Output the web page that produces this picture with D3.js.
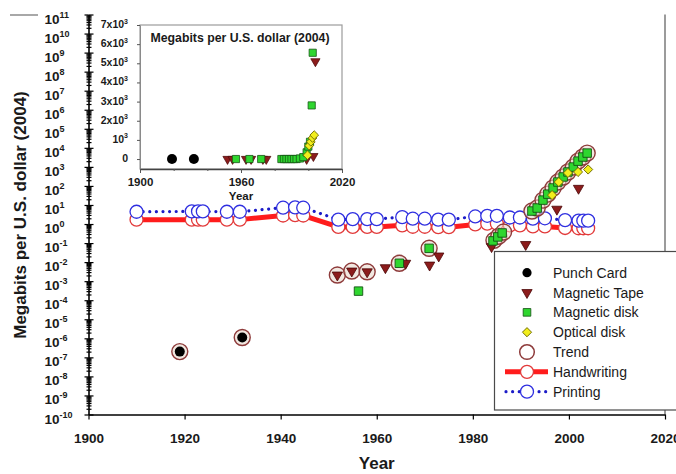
<!DOCTYPE html>
<html><head><meta charset="utf-8">
<script src="https://cdn.jsdelivr.net/npm/d3@7"></script>
<style>
html,body{margin:0;padding:0;background:#fff;}
svg{display:block;font-family:"Liberation Sans",Arial,Helvetica,sans-serif;}
</style></head><body>
<svg id="chart" width="676" height="474"></svg>
<script>
// ---------------- data (main log chart) ----------------
const punchYears = [1919, 1932];
const punchValues = [2.0e-7, 1.1e-6];
const tapeYears = [1951.8, 1954.8, 1958, 1961.8, 1966, 1971, 1972.9, 1983.9, 1991, 1997.5, 2002];
const tapeValues = [2.1e-3, 3.4e-3, 3.1e-3, 5.1e-3, 8.7e-3, 7e-3, 0.021, 0.065, 0.084, 6, 75];
const diskYears = [1956.2, 1964.7, 1970.9, 1984.2, 1985.2, 1986.1, 1992.3, 1993.4, 1994.6, 1995.6, 1996.7, 1997.7, 1998.8, 1999.8, 2000.9, 2001.9, 2002.9, 2003.8];
const diskValues = [3.0e-4, 8.7e-3, 0.053, 0.13, 0.21, 0.34, 4.8, 6.9, 18, 37, 78, 160, 295, 540, 980, 2000, 3300, 5300];
const opticalYears = [1996.5, 1997.9, 1999.8, 2001.9, 2004];
const opticalValues = [33, 160, 480, 540, 730];
const trendYears = [1919, 1932, 1951.8, 1954.8, 1958, 1964.7, 1970.9, 1984.4, 1985.4, 1986.4, 1992.3, 1993.4, 1994.6, 1995.6, 1996.7, 1997.7, 1998.8, 1999.8, 2000.9, 2001.9, 2002.9, 2003.8];
const trendValues = [2.0e-7, 1.1e-6, 2.1e-3, 3.4e-3, 3.1e-3, 8.7e-3, 0.053, 0.14, 0.23, 0.38, 4.8, 6.9, 18, 37, 78, 160, 295, 540, 980, 2000, 3300, 5300];
const paperYears = [1910, 1921.5, 1922.8, 1923.8, 1928.8, 1931.5, 1940.5, 1943, 1944.7, 1952, 1955, 1958, 1960, 1965.3, 1967.5, 1970, 1972.8, 1975, 1980.5, 1983, 1985, 1987.7, 1989.8, 1992.5, 1995, 1999.2, 2002, 2003, 2004];
const printingValues = [4.4, 4.6, 4.6, 4.6, 4.4, 4.4, 7.2, 7.5, 7.2, 1.7, 1.8, 1.8, 1.8, 2.3, 1.9, 1.9, 1.7, 1.7, 2.5, 2.7, 2.7, 2.2, 2.2, 1.9, 2.0, 1.6, 1.5, 1.5, 1.5];
const handwritingValues = [1.7, 1.7, 1.7, 1.7, 1.7, 1.7, 2.8, 2.9, 2.8, 0.7, 0.7, 0.7, 0.7, 0.85, 0.72, 0.72, 0.68, 0.68, 0.95, 1.05, 1.05, 0.85, 0.85, 0.75, 0.75, 0.62, 0.6, 0.6, 0.6];
const xTicks = [1900, 1920, 1940, 1960, 1980, 2000, 2020];
const yExponents = d3.range(-10, 12);

// ---------------- data (inset, linear) ----------------
const insetPunchYears = [1919, 1932];
const insetPunchValues = [0, 0];
const insetTapeYears = [1952, 1955, 1963, 1966, 1973, 1975, 1999, 2003, 2004.2];
const insetTapeValues = [0, 0, 0, 0, 0, 0, 0, 150, 5100];
const insetDiskYears = [1957, 1965, 1972, 1984, 1985.5, 1987, 1988.5, 1990, 1991.5, 1993, 1995, 1997, 1999, 2000, 2001, 2002, 2002.6];
const insetDiskValues = [0, 0, 0, 0, 0, 0, 0, 0, 0, 0, 30, 100, 350, 650, 900, 2800, 5550];
const insetOpticalYears = [1999.5, 2000.5, 2001.5, 2002.5, 2003.5];
const insetOpticalValues = [200, 700, 900, 1100, 1250];
const insetXTicks = [1900, 1960, 2020];
const insetYTicks = [0, 1000, 2000, 3000, 4000, 5000, 6000, 7000];

const legendLabels = ["Punch Card", "Magnetic Tape", "Magnetic disk", "Optical disk", "Trend", "Handwriting", "Printing"];

// ---------------- styles ----------------
const C = {
  tapeFill: "#8c1c1c", tapeStroke: "#4a0808",
  diskFill: "#2fd62f", diskStroke: "#145214",
  optFill: "#f2ee1c", optStroke: "#6d6a00",
  trendStroke: "#8e3b3b", trendFill: "rgba(232,214,200,0.55)",
  red: "#ff1c1c", redCircle: "#e23a3a",
  blue: "#1c1cc8", blueCircle: "#2f2fe0"
};

const svg = d3.select("#chart");
const x = d3.scaleLinear().domain([1900, 2020]).range([88.5, 665]);
const y = d3.scaleLog().domain([1e-10, 1e11]).range([414.5, 14.5]);

const triPath = d3.symbol().type(d3.symbolTriangle).size(46)();
const sqPath = d3.symbol().type(d3.symbolSquare).size(72)();
const diaPath = d3.symbol().type(d3.symbolSquare).size(42)();

function drawTape(g, pts, px, py, scale) {
  g.selectAll(null).data(pts).join("path")
    .attr("d", triPath)
    .attr("transform", d => `translate(${px(d[0])},${py(d[1])}) rotate(180) scale(${scale})`)
    .attr("fill", C.tapeFill).attr("stroke", C.tapeStroke).attr("stroke-width", 0.8);
}
function drawDisk(g, pts, px, py, scale) {
  g.selectAll(null).data(pts).join("path")
    .attr("d", sqPath)
    .attr("transform", d => `translate(${px(d[0])},${py(d[1])}) scale(${scale})`)
    .attr("fill", C.diskFill).attr("stroke", C.diskStroke).attr("stroke-width", 0.9);
}
function drawOptical(g, pts, px, py, scale) {
  g.selectAll(null).data(pts).join("path")
    .attr("d", diaPath)
    .attr("transform", d => `translate(${px(d[0])},${py(d[1])}) rotate(45) scale(${scale})`)
    .attr("fill", C.optFill).attr("stroke", C.optStroke).attr("stroke-width", 0.9);
}
function drawPunch(g, pts, px, py, r) {
  g.selectAll(null).data(pts).join("circle")
    .attr("cx", d => px(d[0])).attr("cy", d => py(d[1])).attr("r", r)
    .attr("fill", "#000");
}
const zip = (a, b) => a.map((v, i) => [v, b[i]]);

// stray gray line at top-left
svg.append("line").attr("x1", 10).attr("x2", 38).attr("y1", 15).attr("y2", 15)
  .attr("stroke", "#a8a8a8").attr("stroke-width", 2);

// right border
svg.append("line").attr("x1", x(2020)).attr("x2", x(2020)).attr("y1", y(1e11)).attr("y2", y(1e-10))
  .attr("stroke", "#7a7a7a").attr("stroke-width", 1.5);

// ---------------- axes ----------------
const majors = yExponents.map(e => Math.pow(10, e));
const minors = [];
yExponents.slice(0, -1).forEach(e => { for (let m = 2; m <= 9; m++) minors.push(m * Math.pow(10, e)); });

const yAxisG = svg.append("g").attr("transform", `translate(${x(1900)},0)`);
yAxisG.append("g").call(d3.axisLeft(y).tickValues(majors).tickSize(4).tickSizeOuter(0).tickFormat(""));
yAxisG.append("g").call(d3.axisLeft(y).tickValues(majors).tickSize(-5).tickSizeOuter(0).tickFormat("")).select(".domain").remove();
yAxisG.append("g").call(d3.axisLeft(y).tickValues(minors).tickSize(2).tickSizeOuter(0).tickFormat("")).select(".domain").remove();
yAxisG.append("g").call(d3.axisLeft(y).tickValues(minors).tickSize(-3).tickSizeOuter(0).tickFormat("")).select(".domain").remove();
yAxisG.selectAll(".domain").attr("stroke", "#000").attr("stroke-width", 1.6);
yAxisG.selectAll(".tick line").attr("stroke", "#000").attr("stroke-width", 1.2);

// y tick labels with superscripts
yExponents.forEach(e => {
  const t = svg.append("text").attr("x", 44.5).attr("y", y(Math.pow(10, e)) + 9)
    .attr("font-size", 13.5).attr("font-weight", "bold").attr("fill", "#1a1a1a");
  t.append("tspan").text("10");
  t.append("tspan").attr("font-size", 9).attr("dy", -6).text(String(e));
});

const xAxisG = svg.append("g").attr("transform", `translate(0,${y(1e-10)})`)
  .call(d3.axisBottom(x).tickValues(xTicks).tickSize(5).tickSizeOuter(0).tickPadding(14).tickFormat(d3.format("d")));
xAxisG.select(".domain").attr("stroke", "#000").attr("stroke-width", 1.6);
xAxisG.selectAll(".tick line").attr("stroke", "#000").attr("stroke-width", 1.2);
xAxisG.selectAll(".tick text").attr("font-size", 13.5).attr("font-weight", "bold").attr("fill", "#1a1a1a")
  .attr("font-family", '"Liberation Sans",Arial,sans-serif');

// axis titles
svg.append("text").attr("x", (x(1900) + x(2020)) / 2).attr("y", 469).attr("text-anchor", "middle")
  .attr("font-size", 17).attr("font-weight", "bold").attr("fill", "#1a1a1a").text("Year");
svg.append("text").attr("transform", "translate(25.5,215) rotate(-90)").attr("text-anchor", "middle")
  .attr("font-size", 17).attr("font-weight", "bold").attr("fill", "#1a1a1a")
  .text("Megabits per U.S. dollar (2004)");

// ---------------- main data ----------------
const plot = svg.append("g");
const hwPts = zip(paperYears, handwritingValues);
const prPts = zip(paperYears, printingValues);
const line = d3.line().x(d => x(d[0])).y(d => y(d[1]));

plot.append("path").attr("d", line(hwPts)).attr("fill", "none")
  .attr("stroke", C.red).attr("stroke-width", 5).attr("stroke-linejoin", "round");
plot.selectAll(null).data(hwPts).join("circle")
  .attr("cx", d => x(d[0])).attr("cy", d => y(d[1])).attr("r", 6.5)
  .attr("fill", "#fff").attr("stroke", C.redCircle).attr("stroke-width", 1.3);
plot.append("path").attr("d", line(prPts)).attr("fill", "none")
  .attr("stroke", C.blue).attr("stroke-width", 3.2).attr("stroke-linecap", "round")
  .attr("stroke-dasharray", "0.01 6.6");
plot.selectAll(null).data(prPts).join("circle")
  .attr("cx", d => x(d[0])).attr("cy", d => y(d[1])).attr("r", 6.5)
  .attr("fill", "#fff").attr("stroke", C.blueCircle).attr("stroke-width", 1.3);

// trend circles
plot.selectAll(null).data(zip(trendYears, trendValues)).join("circle")
  .attr("cx", d => x(d[0])).attr("cy", d => y(d[1])).attr("r", 8)
  .attr("fill", C.trendFill).attr("stroke", C.trendStroke).attr("stroke-width", 1.4);

drawPunch(plot, zip(punchYears, punchValues), x, y, 5);
drawTape(plot, zip(tapeYears, tapeValues), x, y, 1);
drawDisk(plot, zip(diskYears, diskValues), x, y, 1);
drawOptical(plot, zip(opticalYears, opticalValues), x, y, 1);

// ---------------- inset ----------------
const ix = d3.scaleLinear().domain([1900, 2020]).range([140, 342]);
const iy = d3.scaleLinear().domain([-520, 7000]).range([169, 25]);
const inset = svg.append("g");
inset.append("rect").attr("x", 140).attr("y", 25).attr("width", 202).attr("height", 144)
  .attr("fill", "#fff").attr("stroke", "#9c9c9c").attr("stroke-width", 1.2);

const iyAxis = inset.append("g").attr("transform", "translate(140,0)")
  .call(d3.axisLeft(iy).tickValues(insetYTicks).tickSize(3).tickSizeOuter(0).tickFormat(""));
iyAxis.select(".domain").attr("stroke", "#8a8a8a");
iyAxis.selectAll(".tick line").attr("stroke", "#777");
const ixAxis = inset.append("g").attr("transform", "translate(0,169)")
  .call(d3.axisBottom(ix).tickValues(insetXTicks).tickSize(4).tickSizeOuter(0).tickPadding(5).tickFormat(d3.format("d")));
inset.append("g").attr("transform", "translate(0,169)")
  .call(d3.axisBottom(ix).tickValues([1920, 1940, 1980, 2000]).tickSize(2).tickSizeOuter(0).tickFormat(""))
  .select(".domain").remove();
ixAxis.select(".domain").attr("stroke", "#444").attr("stroke-width", 1.3);
inset.selectAll(".tick line").attr("stroke", "#555");
ixAxis.selectAll(".tick text").attr("font-size", 11.5).attr("font-weight", "bold").attr("fill", "#1a1a1a")
  .attr("font-family", '"Liberation Sans",Arial,sans-serif');

insetYTicks.forEach((v, k) => {
  const t = inset.append("text").attr("x", 128).attr("y", iy(v) + 3)
    .attr("text-anchor", "end").attr("font-size", 10.5).attr("font-weight", "bold").attr("fill", "#1a1a1a");
  if (k === 0) { t.text("0"); return; }
  t.append("tspan").text(k === 1 ? "10" : k + "x10");
  t.append("tspan").attr("font-size", 7).attr("dy", -4.5).text("3");
});
inset.append("text").attr("x", ix(1960)).attr("y", 199.5).attr("text-anchor", "middle")
  .attr("font-size", 11.5).attr("font-weight", "bold").attr("fill", "#1a1a1a").text("Year");
inset.append("text").attr("x", 240).attr("y", 42).attr("text-anchor", "middle")
  .attr("font-size", 12.3).attr("font-weight", "bold").attr("fill", "#1a1a1a")
  .text("Megabits per U.S. dollar (2004)");

drawPunch(inset, zip(insetPunchYears, insetPunchValues), ix, iy, 5);
drawTape(inset, zip(insetTapeYears, insetTapeValues), ix, iy, 0.9);
drawDisk(inset, zip(insetDiskYears, insetDiskValues), ix, iy, 0.85);
drawOptical(inset, zip(insetOpticalYears, insetOpticalValues), ix, iy, 0.95);

// ---------------- legend ----------------
const lg = svg.append("g");
lg.append("rect").attr("x", 494.5).attr("y", 251.5).attr("width", 200).attr("height", 158.5)
  .attr("fill", "#fff").attr("stroke", "#4a4a4a").attr("stroke-width", 1.2);
const ly = i => 272.7 + i * 19.83;
const mx = 527;
lg.append("circle").attr("cx", mx).attr("cy", ly(0)).attr("r", 4.6).attr("fill", "#000");
lg.append("path").attr("d", triPath).attr("transform", `translate(${mx},${ly(1)}) rotate(180)`)
  .attr("fill", C.tapeFill).attr("stroke", C.tapeStroke).attr("stroke-width", 0.8);
lg.append("path").attr("d", sqPath).attr("transform", `translate(${mx},${ly(2)}) scale(0.9)`)
  .attr("fill", C.diskFill).attr("stroke", C.diskStroke).attr("stroke-width", 0.9);
lg.append("path").attr("d", diaPath).attr("transform", `translate(${mx},${ly(3)}) rotate(45)`)
  .attr("fill", C.optFill).attr("stroke", C.optStroke).attr("stroke-width", 0.9);
lg.append("circle").attr("cx", mx).attr("cy", ly(4)).attr("r", 7.3)
  .attr("fill", "#fff").attr("stroke", C.trendStroke).attr("stroke-width", 1.5);
lg.append("line").attr("x1", 505).attr("x2", 548).attr("y1", ly(5)).attr("y2", ly(5))
  .attr("stroke", C.red).attr("stroke-width", 5);
lg.append("circle").attr("cx", mx).attr("cy", ly(5)).attr("r", 6.5)
  .attr("fill", "#fff").attr("stroke", C.redCircle).attr("stroke-width", 1.3);
lg.append("line").attr("x1", 506).attr("x2", 548).attr("y1", ly(6)).attr("y2", ly(6))
  .attr("stroke", C.blue).attr("stroke-width", 3.2).attr("stroke-linecap", "round").attr("stroke-dasharray", "0.01 6.6");
lg.append("circle").attr("cx", mx).attr("cy", ly(6)).attr("r", 6.5)
  .attr("fill", "#fff").attr("stroke", C.blueCircle).attr("stroke-width", 1.3);
legendLabels.forEach((s, i) => {
  lg.append("text").attr("x", 553).attr("y", ly(i) + 5).attr("font-size", 14).attr("fill", "#1a1a1a").text(s);
});
</script>
</body></html>
